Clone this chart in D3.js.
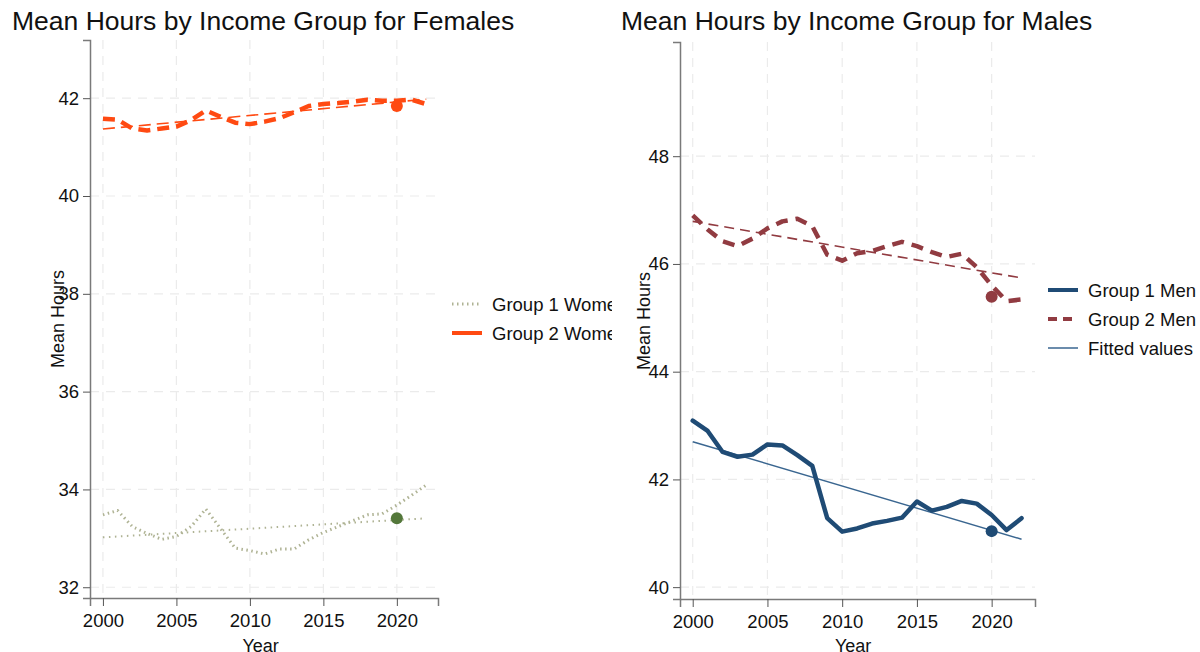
<!DOCTYPE html>
<html>
<head>
<meta charset="utf-8">
<script src="https://cdn.jsdelivr.net/npm/d3@7"></script>
<style>
  body { margin: 0; background: #fff; }
  text { font-family: "Liberation Sans", Arial, sans-serif; }
</style>
</head>
<body>
<div id="chart"></div>
<script>
// Years shared by both panels
const years = d3.range(2000, 2023);

// Females
const women1 = [33.48, 33.57, 33.24, 33.10, 32.98, 33.04, 33.24, 33.60, 33.20, 32.80, 32.75, 32.68,
    32.78, 32.78, 32.97, 33.12, 33.24, 33.36, 33.48, 33.50, 33.68, 33.88, 34.09];
const women2 = [41.58, 41.56, 41.38, 41.34, 41.38, 41.42, 41.55, 41.75, 41.62, 41.50, 41.47, 41.52,
    41.59, 41.71, 41.84, 41.88, 41.90, 41.93, 41.97, 41.95, 41.95, 41.97, 41.88];
const women1Fit = [33.02, 33.41];   // fitted values at 2000 and 2022
const women2Fit = [41.37, 41.98];
const women1Dot = 33.41;            // 2020 marker
const women2Dot = 41.84;

// Males
const men1 = [43.09, 42.90, 42.51, 42.42, 42.46, 42.65, 42.63, 42.45, 42.25, 41.28, 41.03, 41.09,
    41.18, 41.23, 41.29, 41.59, 41.42, 41.49, 41.60, 41.55, 41.34, 41.06, 41.28];
const men2 = [46.90, 46.64, 46.42, 46.33, 46.47, 46.66, 46.79, 46.84, 46.70, 46.17, 46.06, 46.20,
    46.24, 46.33, 46.41, 46.33, 46.22, 46.13, 46.19, 45.94, 45.60, 45.31, 45.34];
const men1Fit = [42.70, 40.89];
const men2Fit = [46.79, 45.74];
const men1Dot = 41.04;
const men2Dot = 45.39;

// Tick labels
const xTicks = [2000, 2005, 2010, 2015, 2020];
const womenYTicks = [32, 34, 36, 38, 40, 42];
const menYTicks = [40, 42, 44, 46, 48];
const fitYears = [2000, 2022];
const dotYear = 2020;

const svg = d3.select('#chart')
    .append('svg')
    .attr('width', 1200)
    .attr('height', 652);

function drawPanel(opt) {
    const root = svg.append('g');
    const clipId = 'clip' + opt.id;
    root.append('clipPath').attr('id', clipId)
        .append('rect')
        .attr('x', opt.clip[0]).attr('y', 0)
        .attr('width', opt.clip[1] - opt.clip[0]).attr('height', 652);
    const g = root.append('g').attr('clip-path', `url(#${clipId})`);

    const x = d3.scaleLinear().domain(opt.xDomain).range([opt.left, opt.right]);
    const y = d3.scaleLinear().domain(opt.yDomain).range([opt.bottom, opt.top]);

    // Title
    g.append('text')
        .attr('x', opt.titleX)
        .attr('y', 30)
        .attr('font-size', '26.5px')
        .attr('fill', '#111')
        .text(opt.title);

    // Grid
    g.selectAll('.vgrid')
        .data(xTicks)
        .enter()
        .append('line')
        .attr('x1', d => x(d)).attr('x2', d => x(d))
        .attr('y1', opt.top).attr('y2', opt.bottom)
        .attr('stroke', '#ebebeb')
        .attr('stroke-width', 1.2)
        .attr('stroke-dasharray', '9,7');
    g.selectAll('.hgrid')
        .data(opt.yTicks)
        .enter()
        .append('line')
        .attr('x1', opt.left).attr('x2', opt.right)
        .attr('y1', d => y(d)).attr('y2', d => y(d))
        .attr('stroke', '#ebebeb')
        .attr('stroke-width', 1.2)
        .attr('stroke-dasharray', '9,7');

    // Axes
    const xAxis = g.append('g')
        .attr('transform', `translate(0,${opt.bottom})`)
        .call(d3.axisBottom(x).tickValues(xTicks).tickFormat(d3.format('d')).tickSize(8).tickPadding(8));
    const yAxis = g.append('g')
        .attr('transform', `translate(${opt.left},0)`)
        .call(d3.axisLeft(y).tickValues(opt.yTicks).tickSize(7).tickPadding(4));
    [xAxis, yAxis].forEach(a => {
        a.select('.domain').attr('stroke', '#7a7a7a').attr('stroke-width', 1.5);
        a.selectAll('.tick line').attr('stroke', '#555');
        a.selectAll('.tick text')
            .attr('font-size', '18.5px')
            .attr('font-family', '"Liberation Sans", Arial, sans-serif')
            .attr('fill', '#111');
    });

    g.append('text')
        .attr('x', (x(2000) + x(2022)) / 2 - 4)
        .attr('y', 652)
        .attr('text-anchor', 'middle')
        .attr('font-size', '18px')
        .attr('fill', '#111')
        .text('Year');
    g.append('text')
        .attr('transform', `translate(${opt.yLabelX},${opt.yLabelY}) rotate(-90)`)
        .attr('text-anchor', 'middle')
        .attr('font-size', '18px')
        .attr('fill', '#111')
        .text('Mean Hours');

    const line = d3.line().x((d, i) => x(years[i])).y(d => y(d));
    const fitLine = d3.line().x((d, i) => x(fitYears[i])).y(d => y(d));

    opt.series.forEach(s => {
        g.append('path')
            .datum(s.fit)
            .attr('d', fitLine)
            .attr('fill', 'none')
            .attr('stroke', s.fitColor)
            .attr('stroke-width', s.fitWidth)
            .attr('stroke-dasharray', s.fitDash);
        g.append('path')
            .datum(s.values)
            .attr('d', line)
            .attr('fill', 'none')
            .attr('stroke', s.color)
            .attr('stroke-width', s.width)
            .attr('stroke-linejoin', 'round')
            .attr('stroke-linecap', s.cap)
            .attr('stroke-dasharray', s.dash);
        g.append('circle')
            .attr('cx', x(dotYear))
            .attr('cy', y(s.dot))
            .attr('r', 6)
            .attr('fill', s.dotColor);
    });

    // Legend
    const legend = g.append('g');
    opt.legend.forEach((l, i) => {
        const ly = opt.legendY + i * opt.legendStep;
        legend.append('line')
            .attr('x1', opt.legendX).attr('x2', opt.legendX + 30)
            .attr('y1', ly).attr('y2', ly)
            .attr('stroke', l.color)
            .attr('stroke-width', l.width)
            .attr('stroke-dasharray', l.dash);
        legend.append('text')
            .attr('x', opt.legendX + 40)
            .attr('y', ly + 6.5)
            .attr('font-size', '18.5px')
            .attr('fill', '#111')
            .text(l.label);
    });
}

drawPanel({
    id: 'f',
    title: 'Mean Hours by Income Group for Females',
    titleX: 12,
    clip: [0, 612],
    left: 90, right: 438, top: 40, bottom: 598,
    xDomain: [1999.12, 2022.8],
    yDomain: [31.78, 43.19],
    yTicks: womenYTicks,
    yLabelX: 64, yLabelY: 319,
    legendX: 452, legendY: 304, legendStep: 29,
    series: [
        { values: women1, color: '#afb394', width: 3, dash: '1.5,3.5', cap: 'butt',
          fit: women1Fit, fitColor: '#afb394', fitWidth: 2, fitDash: '1.5,4.5',
          dot: women1Dot, dotColor: '#53773a' },
        { values: women2, color: '#ff4a12', width: 4.5, dash: '12,7', cap: 'butt',
          fit: women2Fit, fitColor: '#ff4a12', fitWidth: 1.6, fitDash: '12,6',
          dot: women2Dot, dotColor: '#ff4a12' }
    ],
    legend: [
        { label: 'Group 1 Women', color: '#afb394', width: 3, dash: '1.5,3.5' },
        { label: 'Group 2 Women', color: '#ff4a12', width: 4, dash: null }
    ]
});

drawPanel({
    id: 'm',
    title: 'Mean Hours by Income Group for Males',
    titleX: 621,
    clip: [612, 1200],
    left: 680, right: 1035, top: 42, bottom: 599,
    xDomain: [1999.15, 2022.9],
    yDomain: [39.78, 50.12],
    yTicks: menYTicks,
    yLabelX: 650, yLabelY: 321,
    legendX: 1048, legendY: 290, legendStep: 29,
    series: [
        { values: men2, color: '#913b41', width: 4.5, dash: '12,8', cap: 'butt',
          fit: men2Fit, fitColor: '#913b41', fitWidth: 1.6, fitDash: '10,6',
          dot: men2Dot, dotColor: '#913b41' },
        { values: men1, color: '#1f4b75', width: 4.5, dash: null, cap: 'round',
          fit: men1Fit, fitColor: '#3a6690', fitWidth: 1.4, fitDash: null,
          dot: men1Dot, dotColor: '#1f4b75' }
    ],
    legend: [
        { label: 'Group 1 Men', color: '#1f4b75', width: 4, dash: null },
        { label: 'Group 2 Men', color: '#913b41', width: 4, dash: '9,6' },
        { label: 'Fitted values', color: '#3a6690', width: 1.5, dash: null }
    ]
});
</script>
</body>
</html>
